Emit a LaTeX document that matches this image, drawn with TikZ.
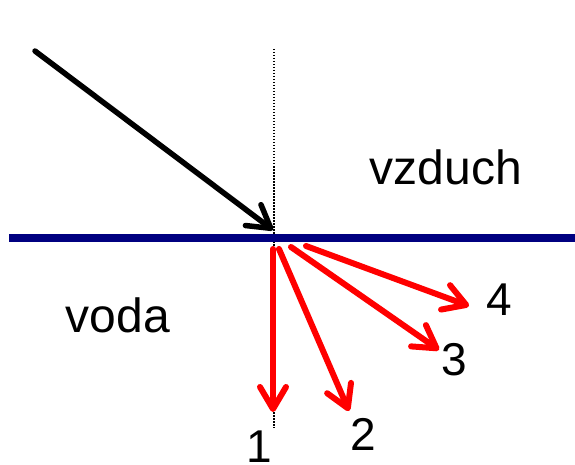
\documentclass[tikz,border=0pt]{standalone}
\usepackage{fontspec}
\setmainfont{Liberation Sans}
\usetikzlibrary{arrows.meta}

\begin{document}
\begin{tikzpicture}[x=1pt,y=-1pt,line cap=round,line join=round]

% Colors
\definecolor{surfblue}{RGB}{0,0,128}
\definecolor{rayred}{RGB}{255,0,0}

% Styles
\tikzset{
  raytip/.style={-{Straight Barb[length=22pt,width=26pt,round]}},
  inray/.style={draw=black,line width=5.5pt,raytip},
  outray/.style={draw=rayred,line width=6pt,raytip},
  medium/.style={font=\fontsize{48}{48}\selectfont,anchor=base},
  raynum/.style={font=\fontsize{46}{46}\selectfont,anchor=base}
}

\useasboundingbox (0,0) rectangle (575,465);

% Normal line and surface
\coordinate (ntop) at (274,49);
\coordinate (nbot) at (274,428);
\coordinate (sleft) at (9,238);
\coordinate (sright) at (575,238);
\draw[line width=1.2pt,dash pattern=on 1.5pt off 1.5pt,line cap=butt] (ntop) -- (nbot);
\draw[draw=surfblue,line width=7.5pt,line cap=butt] (sleft) -- (sright);

% Media labels
\node[medium] (air) at (446,185) {vzduch};
\node[medium] (water) at (118,332) {voda};

% Incident ray
\coordinate (src) at (35,51);
\coordinate (hit) at (273,230);
\draw[inray] (src) -- (hit);

% Refracted rays
\coordinate (s1) at (273,249);
\coordinate (s2) at (279,249);
\coordinate (s3) at (291,247);
\coordinate (s4) at (306,246);
\coordinate (t1) at (273,412);
\coordinate (t2) at (349,411);
\coordinate (t3) at (439,350);
\coordinate (t4) at (469,306);
\foreach \k in {1,...,4} {
  \draw[outray] (s\k) -- (t\k);
}

% Ray numbers
\node[raynum] (n1) at (259,462) {1};
\node[raynum] (n2) at (363,450) {2};
\node[raynum] (n3) at (454,375) {3};
\node[raynum] (n4) at (499,315) {4};

\end{tikzpicture}
\end{document}
